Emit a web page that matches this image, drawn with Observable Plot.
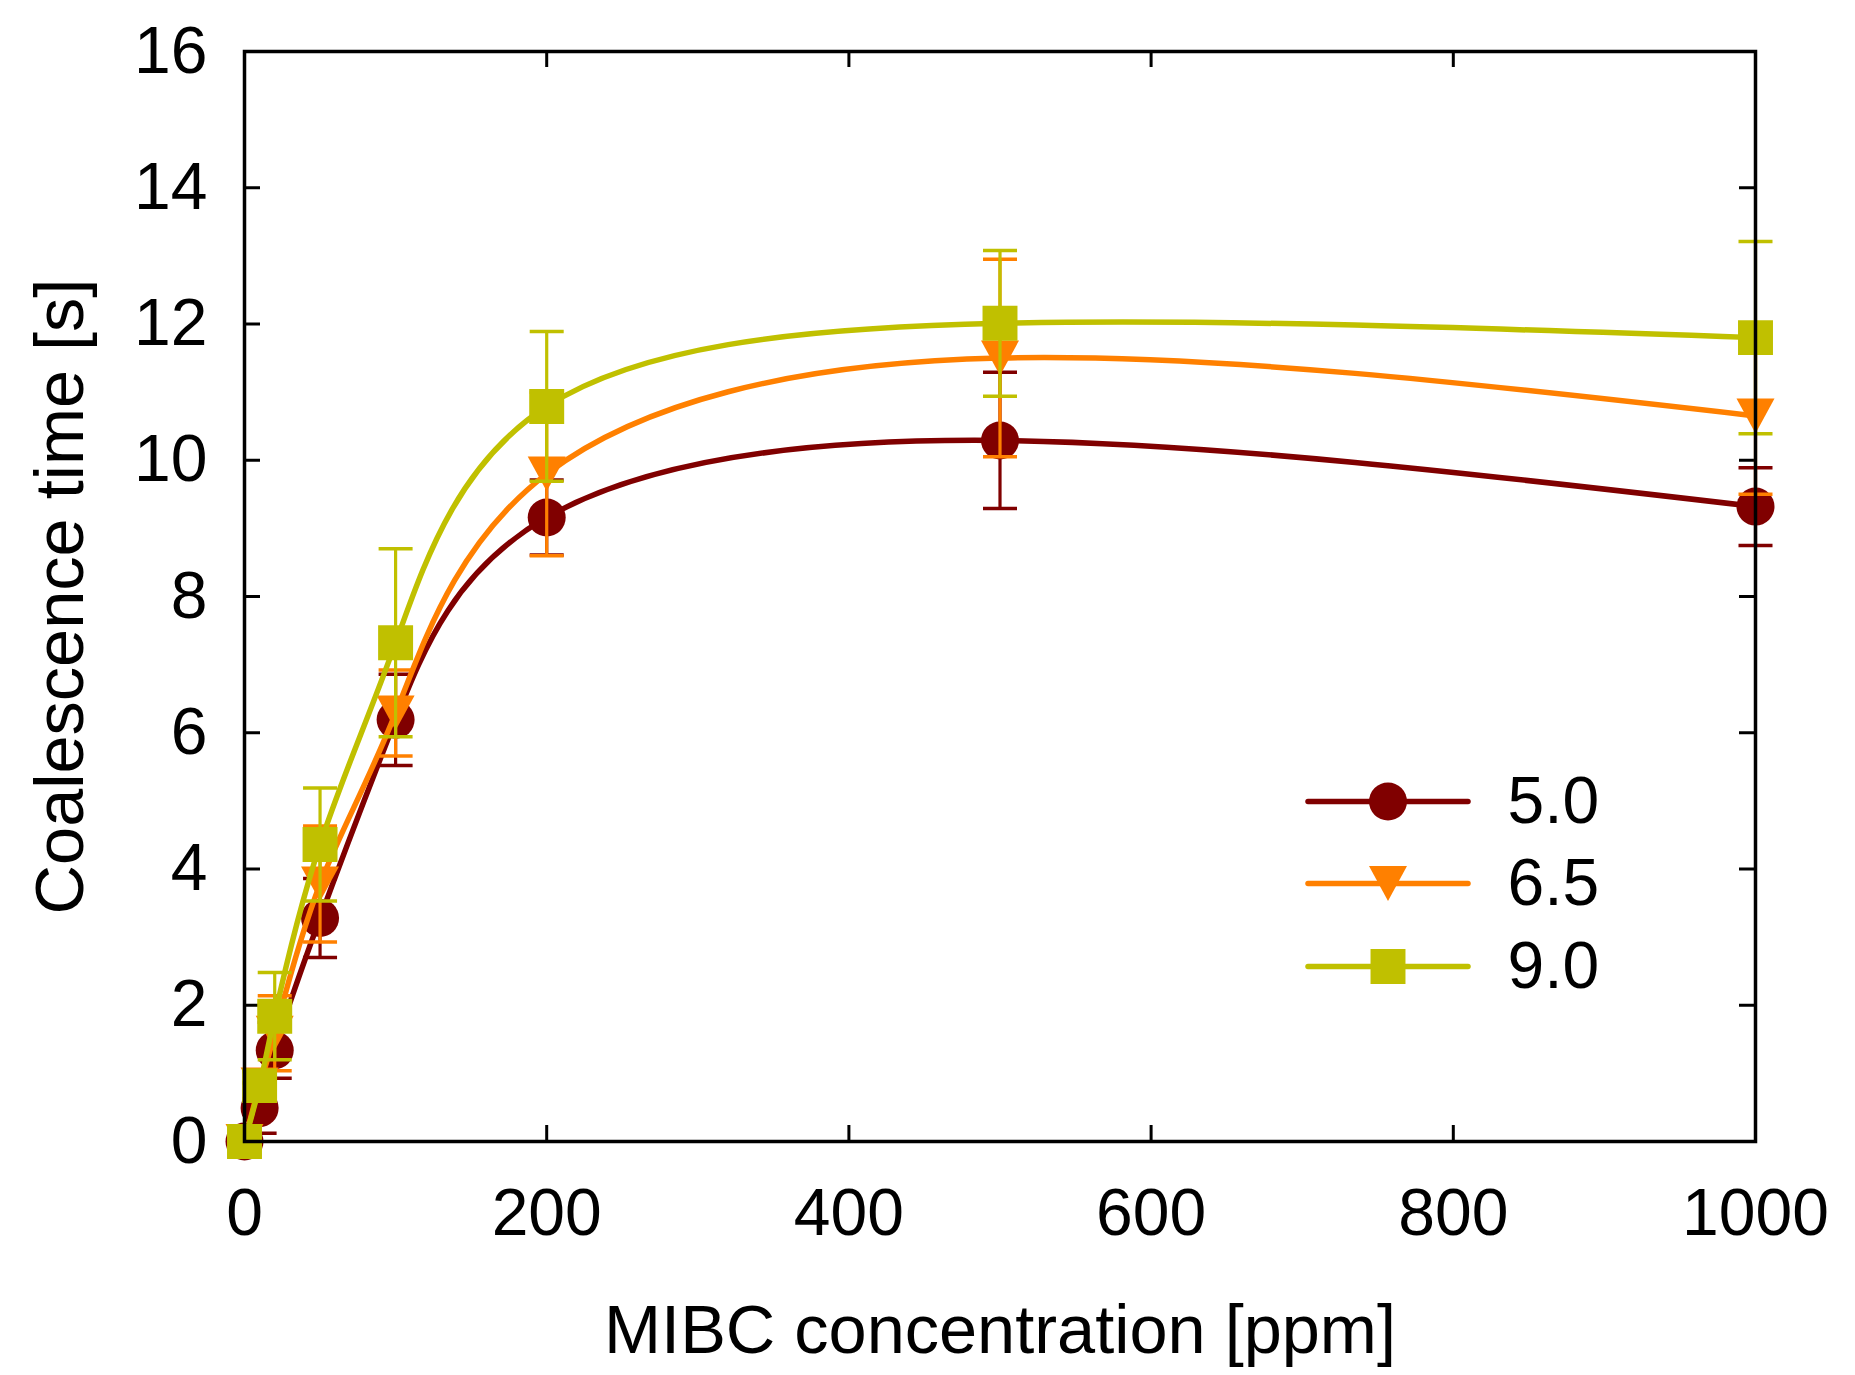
<!DOCTYPE html>
<html>
<head>
<meta charset="utf-8">
<script src="https://cdn.jsdelivr.net/npm/d3@7"></script>
<script src="https://cdn.jsdelivr.net/npm/@observablehq/plot@0.6"></script>
<style>
  html, body { margin: 0; padding: 0; background: #fff; }
  #chart { width: 1855px; height: 1375px; }
</style>
</head>
<body>
<div id="chart"></div>
<script>
// ---- data ----
const concentrations = [0, 10, 20, 50, 100, 200, 500, 1000];
const seriesNames = ["5.0", "6.5", "9.0"];
const seriesColors = ["#800000", "#FF8000", "#C0C000"];
const values50 = [0, 0.49, 1.34, 3.28, 6.19, 9.16, 10.29, 9.32];
const errors50 = [0, 0.37, 0.41, 0.58, 0.67, 0.55, 1.0, 0.57];
const values65 = [0, 0.83, 1.59, 3.78, 6.29, 9.80, 11.50, 10.65];
const errors65 = [0, 0.20, 0.55, 0.85, 0.63, 1.20, 1.45, 1.15];
const values90 = [0, 0.82, 1.84, 4.36, 7.32, 10.79, 12.01, 11.80];
const errors90 = [0, 0.20, 0.64, 0.83, 1.38, 1.10, 1.07, 1.41];
const xTicks = [0, 200, 400, 600, 800, 1000];
const yTicks = [0, 2, 4, 6, 8, 10, 12, 14, 16];
const xLabel = "MIBC concentration [ppm]";
const yLabel = "Coalescence time [s]";

const allValues = [values50, values65, values90];
const allErrors = [errors50, errors65, errors90];
const series = seriesNames.map((name, i) => ({
  name,
  color: seriesColors[i],
  rows: concentrations.map((c, j) => ({x: c, y: allValues[i][j], e: allErrors[i][j]}))
}));

// ---- custom symbols ----
const capSymbol = {draw(ctx, size) { const r = Math.sqrt(size / Math.PI); ctx.moveTo(-r, 0); ctx.lineTo(r, 0); }};
const triDown = {draw(ctx, size) { const r = Math.sqrt(size / Math.PI); const h = 0.92 * r; ctx.moveTo(-r, -h); ctx.lineTo(r, -h); ctx.lineTo(0, h); ctx.closePath(); }};
const squareSym = {draw(ctx, size) { const r = Math.sqrt(size / Math.PI) * 0.92; ctx.moveTo(-r, -r); ctx.lineTo(r, -r); ctx.lineTo(r, r); ctx.lineTo(-r, r); ctx.closePath(); }};
const markerSymbols = ["circle", triDown, squareSym];

// ---- layout ----
const W = 1855, H = 1375;
const mL = 244, mR = 100, mT = 51, mB = 234;
const innerW = W - mL - mR, innerH = H - mT - mB;
const tickLen = 16;
const FS = 66;
const TFS = 68.5;

const marks = [];

// inward ticks on all four sides
marks.push(Plot.tickX(xTicks, {x: d => d, insetTop: innerH - tickLen, stroke: "black", strokeWidth: 3}));
marks.push(Plot.tickX(xTicks, {x: d => d, insetBottom: innerH - tickLen, stroke: "black", strokeWidth: 3}));
marks.push(Plot.tickY(yTicks, {y: d => d, insetRight: innerW - tickLen, stroke: "black", strokeWidth: 3}));
marks.push(Plot.tickY(yTicks, {y: d => d, insetLeft: innerW - tickLen, stroke: "black", strokeWidth: 3}));

// series
series.forEach((s, i) => {
  const withErr = s.rows.filter(d => d.e > 0);
  marks.push(Plot.line(s.rows, {x: "x", y: "y", curve: "natural", stroke: s.color, strokeWidth: 5.5}));
  marks.push(Plot.ruleX(withErr, {x: "x", y1: d => d.y - d.e, y2: d => d.y + d.e, stroke: s.color, strokeWidth: 3.2}));
  marks.push(Plot.dot(withErr, {x: "x", y: d => d.y - d.e, symbol: capSymbol, r: 17, stroke: s.color, strokeWidth: 3.5, fill: "none"}));
  marks.push(Plot.dot(withErr, {x: "x", y: d => d.y + d.e, symbol: capSymbol, r: 17, stroke: s.color, strokeWidth: 3.5, fill: "none"}));
  marks.push(Plot.dot(s.rows, {x: "x", y: "y", symbol: markerSymbols[i], r: 19, fill: s.color, stroke: "none"}));
});

// frame
marks.push(Plot.frame({stroke: "black", strokeWidth: 3.5}));

// axes
marks.push(Plot.axisX({ticks: xTicks, tickSize: 0, tickPadding: 47, tickFormat: d => String(d), fontSize: FS, label: null}));
marks.push(Plot.axisY({ticks: yTicks, tickSize: 0, tickPadding: 37, tickFormat: d => String(d), fontSize: FS, label: null}));

// axis titles
marks.push(Plot.text([xLabel], {frameAnchor: "bottom", dy: 190, lineAnchor: "middle", textAnchor: "middle", fontSize: TFS, fill: "black"}));
marks.push(Plot.text([yLabel], {frameAnchor: "left", dx: -183, rotate: -90, lineAnchor: "middle", textAnchor: "middle", fontSize: TFS, fill: "black"}));

// legend
const legendX = 1387.5 - mL, legendTextX = 1507 - mL;
const legendY = [801 - mT, 883 - mT, 966 - mT];
series.forEach((s, i) => {
  marks.push(Plot.dot([s.name], {frameAnchor: "top-left", dx: legendX, dy: legendY[i], symbol: capSymbol, r: 80, stroke: s.color, strokeWidth: 5.5, strokeLinecap: "round", fill: "none"}));
  marks.push(Plot.dot([s.name], {frameAnchor: "top-left", dx: legendX, dy: legendY[i], symbol: markerSymbols[i], r: 19, fill: s.color, stroke: "none"}));
  marks.push(Plot.text([s.name], {frameAnchor: "top-left", dx: legendTextX, dy: legendY[i], textAnchor: "start", lineAnchor: "middle", fontSize: FS, fill: "black"}));
});

const chart = Plot.plot({
  width: W, height: H,
  marginLeft: mL, marginRight: mR, marginTop: mT, marginBottom: mB,
  x: {domain: [0, 1000]},
  y: {domain: [0, 16]},
  style: {fontFamily: "'Liberation Sans', Arial, sans-serif", background: "white", color: "black", overflow: "visible"},
  marks
});
document.getElementById("chart").appendChild(chart);
</script>
</body>
</html>
